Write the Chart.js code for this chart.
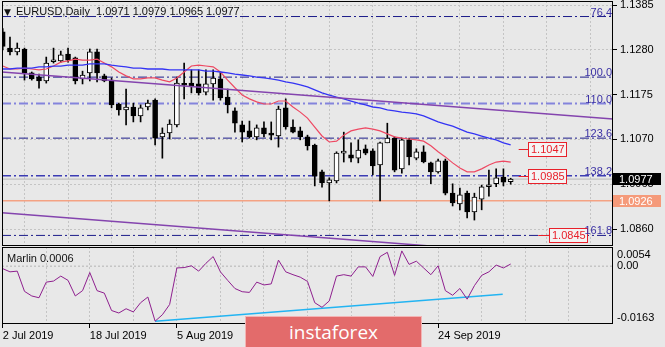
<!DOCTYPE html>
<html>
<head>
<meta charset="utf-8">
<script src="https://cdn.jsdelivr.net/npm/chart.js@4.4.0/dist/chart.umd.min.js"></script>
<style>
  body { margin: 0; background: #e8e8e8; }
  #wrap { position: relative; width: 665px; height: 347px; overflow: hidden; font-family: "Liberation Sans", Arial, sans-serif; }
  canvas { position: absolute; left: 0; }
  #main { top: 0; }
  #sub { top: 244px; }
  .title { position: absolute; left: 4px; top: 5px; font-size: 11px; color: #111; white-space: pre; }
  .title span.tri { font-family: "DejaVu Sans"; font-size: 9px; margin-right: 5px; }
  .marlin { position: absolute; left: 7px; top: 252px; font-size: 11px; color: #111; }
  .brand { position: absolute; left: 245px; top: 316px; width: 175px; height: 40px; background: #e36b6b;
           border: 1px solid #f3b5b5; color: #fff; font-family: "Open Sans", sans-serif; font-size: 19px;
           text-align: center; line-height: 30px; }
</style>
</head>
<body>
<div id="wrap">
  <canvas id="sub" width="665" height="103"></canvas>
  <canvas id="main" width="665" height="246"></canvas>
  <div class="title"><span class="tri">▼</span>EURUSD,Daily  1.0971 1.0979 1.0965 1.0977</div>
  <div class="marlin">Marlin 0.0006</div>
  <div class="brand">instaforex</div>
</div>
<script>
// daily EURUSD candles, 2 Jul 2019 .. 8 Oct 2019
const opens  = [1.1322,1.1284,1.1275,1.1282,1.1226,1.1216,1.1207,1.1252,1.1254,1.1270,
                1.1261,1.1212,1.1226,1.1275,1.1219,1.1209,1.1153,1.1139,1.1146,1.1125,
                1.1146,1.1162,1.1076,1.1085,1.1104,1.1200,1.1202,1.1200,1.1181,1.1200,
                1.1212,1.1169,1.1137,1.1104,1.1090,1.1076,1.1097,1.1085,1.1078,1.1144,
                1.1099,1.1090,1.1076,1.1057,1.0994,1.0968,1.0973,1.1038,1.1034,1.1026,
                1.1048,1.1043,1.1010,1.1062,1.1073,1.1001,1.1069,1.1026,1.1041,1.1015,
                1.0994,1.1020,1.0944,1.0919,1.0944,1.0900,1.0930,1.0959,1.0966,1.0982,1.0971];
const highs  = [1.1330,1.1310,1.1296,1.1284,1.1228,1.1223,1.1263,1.1284,1.1277,1.1284,
                1.1263,1.1230,1.1282,1.1282,1.1223,1.1214,1.1155,1.1188,1.1155,1.1151,
                1.1162,1.1165,1.1097,1.1116,1.1216,1.1249,1.1233,1.1233,1.1233,1.1233,
                1.1228,1.1188,1.1144,1.1113,1.1113,1.1104,1.1111,1.1111,1.1148,1.1165,
                1.1116,1.1099,1.1080,1.1059,1.0998,1.0980,1.1041,1.1087,1.1062,1.1069,
                1.1057,1.1048,1.1064,1.1108,1.1076,1.1073,1.1073,1.1048,1.1055,1.1017,
                1.1024,1.1024,1.0966,1.0956,1.0949,1.0944,1.0963,1.0998,1.1001,1.1001,1.0979];
const lows   = [1.1280,1.1268,1.1268,1.1209,1.1209,1.1190,1.1202,1.1249,1.1251,1.1251,
                1.1200,1.1200,1.1207,1.1205,1.1205,1.1144,1.1127,1.1104,1.1111,1.1111,
                1.1139,1.1057,1.1026,1.1071,1.1099,1.1165,1.1179,1.1174,1.1174,1.1162,
                1.1162,1.1132,1.1087,1.1064,1.1073,1.1069,1.1076,1.1069,1.1052,1.1094,
                1.1085,1.1069,1.1045,1.0961,1.0958,1.0926,1.0968,1.1017,1.1017,1.1015,
                1.1034,1.0987,1.0926,1.1062,1.0994,1.0991,1.1010,1.1022,1.1015,1.0966,
                1.0991,1.0940,1.0914,1.0905,1.0886,1.0881,1.0905,1.0937,1.0959,1.0961,1.0965];
const closes = [1.1288,1.1275,1.1284,1.1226,1.1212,1.1207,1.1249,1.1254,1.1268,1.1256,
                1.1207,1.1221,1.1275,1.1226,1.1207,1.1151,1.1139,1.1146,1.1125,1.1144,
                1.1155,1.1073,1.1085,1.1106,1.1202,1.1197,1.1195,1.1179,1.1200,1.1214,
                1.1167,1.1151,1.1108,1.1087,1.1076,1.1097,1.1083,1.1080,1.1141,1.1099,
                1.1087,1.1076,1.1055,1.0984,1.0968,1.0975,1.1038,1.1041,1.1026,1.1045,
                1.1038,1.1008,1.1062,1.1073,1.0998,1.1069,1.1029,1.1041,1.1017,1.0994,
                1.1020,1.0944,1.0921,1.0940,1.0900,1.0935,1.0959,1.0961,1.0980,1.0970,1.0977];

// moving averages (red fast, blue slow)
const fastMA = [1.1242,1.1235,1.1235,1.1237,1.1235,1.1233,1.1235,1.1242,1.1251,1.1254,
                1.1258,1.1256,1.1256,1.1258,1.1249,1.1240,1.1228,1.1219,1.1212,1.1212,
                1.1214,1.1214,1.1209,1.1205,1.1214,1.1228,1.1242,1.1244,1.1242,1.1240,
                1.1228,1.1209,1.1191,1.1174,1.1165,1.1158,1.1153,1.1153,1.1160,1.1160,
                1.1146,1.1134,1.1120,1.1099,1.1078,1.1064,1.1066,1.1080,1.1090,1.1094,
                1.1097,1.1094,1.1090,1.1083,1.1076,1.1073,1.1071,1.1069,1.1066,1.1055,
                1.1041,1.1029,1.1015,1.1003,1.0994,1.0994,1.1001,1.1010,1.1017,1.1019,1.1017];
const slowMA = [1.1235,1.1235,1.1237,1.1237,1.1237,1.1240,1.1240,1.1242,1.1242,1.1244,
                1.1244,1.1244,1.1247,1.1247,1.1247,1.1244,1.1242,1.1240,1.1237,1.1237,
                1.1235,1.1235,1.1235,1.1233,1.1233,1.1233,1.1233,1.1233,1.1230,1.1230,
                1.1228,1.1226,1.1223,1.1221,1.1219,1.1216,1.1214,1.1212,1.1209,1.1205,
                1.1202,1.1198,1.1193,1.1186,1.1179,1.1174,1.1169,1.1165,1.1160,1.1155,
                1.1151,1.1146,1.1144,1.1139,1.1137,1.1134,1.1132,1.1130,1.1125,1.1118,
                1.1111,1.1106,1.1101,1.1094,1.1087,1.1083,1.1078,1.1073,1.1069,1.1062,1.1057];

// Marlin oscillator
const marlin = [-0.0007,-0.0016,-0.0014,-0.0071,-0.0084,-0.0089,-0.0045,-0.0042,-0.0028,-0.0040,
                -0.0084,-0.0069,-0.0018,-0.0069,-0.0076,-0.0125,-0.0132,-0.0120,-0.0129,-0.0103,
                -0.0087,-0.0155,-0.0137,-0.0108,-0.0005,-0.0004,0.0001,-0.0014,0.0008,0.0027,
                -0.0016,-0.0040,-0.0063,-0.0072,-0.0074,-0.0045,-0.0053,-0.0050,0.0017,-0.0016,
                -0.0024,-0.0031,-0.0043,-0.0103,-0.0116,-0.0098,-0.0028,-0.0024,-0.0028,-0.0002,
                -0.0002,-0.0029,0.0027,0.0039,-0.0026,0.0043,0.0005,0.0014,-0.0005,-0.0024,
                0.0001,-0.0069,-0.0082,-0.0063,-0.0093,-0.0055,-0.0026,-0.0016,0.0003,-0.0005,0.0006];
const marlinTrend = [-0.0155, -0.0079];
const marlinTicks = [0.0054, 0, -0.0163];

const priceTicks = [1.1385, 1.1280, 1.1175, 1.1070, 1.0965, 1.0860];
const dateLabels = ['2 Jul 2019', '18 Jul 2019', '5 Aug 2019', '21 Aug 2019', '6 Sep 2019', '24 Sep 2019'];
const fibLevels = [76.4, 100.0, 110.0, 123.6, 138.2, 161.8];
const fibPrices = [1.1358, 1.1216, 1.1154, 1.1073, 1.0985, 1.0845];
const targetPrices = [1.1047, 1.0985, 1.0845];
const lastPrice = 1.0977;
const supportPrice = 1.0926;
const channelUpper = [1.1228, 1.1118];
const channelLower = [1.0898, 1.0787];

Chart.defaults.font.family = '"Liberation Sans", Arial, sans-serif';
Chart.defaults.font.size = 11;

const X_MIN = -0.1, X_MAX = 84.1, GRID_STEP = 6, LABEL_STEP = 12;
const lastIndex = closes.length - 1;
const idx = closes.map((_, i) => i);
const gridTicks = [];
for (let v = 0; v <= X_MAX; v += GRID_STEP) gridTicks.push({ value: v });

function hLine(price) {
    return [{ x: X_MIN, y: price }, { x: X_MAX, y: price }];
}

function lineSet(data, color, width, extra) {
    return Object.assign({
        type: 'line', data: data, borderColor: color, borderWidth: width,
        pointRadius: 0, tension: 0, fill: false, order: 1
    }, extra || {});
}

// no extra room for edge labels, the frame is fixed
function noEdgePadding(s) {
    s.paddingTop = 0; s.paddingBottom = 0; s.paddingLeft = 0; s.paddingRight = 0;
}

// fib level styles
const fibStyles = {
    110.0: { color: '#8484dc', width: 2 },
    138.2: { color: '#3c3cb4', width: 1.5 }
};
const fibSets = fibPrices.map((p, k) => {
    const st = fibStyles[fibLevels[k]] || { color: '#1c1c8a', width: 1 };
    return lineSet(hLine(p), st.color, st.width, { borderDash: [9, 3, 2, 3], order: 6 });
});

const mainDecor = {
    id: 'mainDecor',
    afterDatasetsDraw(chart) {
        const { ctx, chartArea: a, scales: { x, y } } = chart;
        ctx.save();
        ctx.font = '11px "Liberation Sans"';

        // red target labels: [line start, box start] in bar units
        const anchors = [[71.1, 72.4], [71.1, 72.4], [73.8, 75.3]];
        ctx.textAlign = 'left';
        ctx.textBaseline = 'middle';
        targetPrices.forEach((p, k) => {
            const py = Math.round(y.getPixelForValue(p)) + 0.5;
            const x0 = x.getPixelForValue(anchors[k][0]);
            const bx = Math.round(x.getPixelForValue(anchors[k][1])) + 0.5;
            const txt = p.toFixed(4);
            const w = Math.round(ctx.measureText(txt).width) + 4;
            ctx.strokeStyle = '#e8202a';
            ctx.lineWidth = 1;
            ctx.beginPath(); ctx.moveTo(x0, py); ctx.lineTo(bx, py); ctx.stroke();
            ctx.fillStyle = '#f4f4f4';
            ctx.fillRect(bx, py - 7, w, 14);
            ctx.strokeRect(bx, py - 7, w, 14);
            ctx.fillStyle = '#e8202a';
            ctx.fillText(txt, bx + 2.5, py + 0.5);
        });

        ctx.textAlign = 'right';
        ctx.textBaseline = 'bottom';
        ctx.fillStyle = '#3a30a4';
        fibLevels.forEach((lv, k) => {
            ctx.fillText(lv.toFixed(1), a.right - 1, Math.round(y.getPixelForValue(fibPrices[k])) + 1);
        });
        ctx.restore();
    },
    afterDraw(chart) {
        const { ctx, chartArea: a, scales: { y } } = chart;
        ctx.save();
        ctx.strokeStyle = '#000';
        ctx.lineWidth = 1;
        ctx.strokeRect(a.left + 0.5, a.top + 0.5, a.right - a.left - 1, a.bottom - a.top - 1);
        ctx.font = '11px "Liberation Sans"';
        ctx.textBaseline = 'middle';
        ctx.textAlign = 'left';
        [[lastPrice, '#000000'], [supportPrice, '#f59a7a']].forEach(([p, bg]) => {
            const py = Math.round(y.getPixelForValue(p));
            ctx.fillStyle = bg;
            ctx.fillRect(a.right, py - 6, 48, 12);
            ctx.fillStyle = '#fff';
            ctx.fillText(p.toFixed(4), a.right + 6, py + 0.5);
        });
        ctx.restore();
    }
};

new Chart(document.getElementById('main'), {
    type: 'bar',
    data: {
        datasets: [
            ...fibSets,
            lineSet(hLine(supportPrice), '#f4a283', 1.5, { order: 5 }),
            lineSet(hLine(lastPrice), '#b8b8b8', 1, { order: 5 }),
            {
                data: idx.map(i => ({ x: i, y: [lows[i], highs[i]] })),
                backgroundColor: '#000', barThickness: 1, grouped: false, order: 4
            },
            {
                data: idx.map(i => ({ x: i, y: [Math.min(opens[i], closes[i]), Math.max(opens[i], closes[i])] })),
                backgroundColor: idx.map(i => closes[i] > opens[i] ? '#ffffff' : '#000000'),
                borderColor: '#000', borderWidth: 1, borderSkipped: false,
                barThickness: 5, grouped: false, minBarLength: 2, order: 3
            },
            lineSet(hLine(0).map((pt, k) => ({ x: pt.x, y: channelUpper[k] })), '#8444ae', 1.5),
            lineSet(hLine(0).map((pt, k) => ({ x: pt.x, y: channelLower[k] })), '#8444ae', 1.5),
            lineSet(idx.map(i => ({ x: i, y: slowMA[i] })), '#3434f4', 1.3),
            lineSet(idx.map(i => ({ x: i, y: fastMA[i] })), '#ee4862', 1.2)
        ]
    },
    options: {
        responsive: false, animation: false, events: [],
        layout: { padding: { left: 2, top: 1, right: 0, bottom: 0 } },
        plugins: { legend: { display: false }, tooltip: { enabled: false } },
        scales: {
            x: {
                type: 'linear', min: X_MIN, max: X_MAX, offset: false,
                afterBuildTicks: s => { s.ticks = gridTicks.slice(); },
                afterFit: s => { s.height = 0; noEdgePadding(s); },
                ticks: { display: false },
                grid: { color: '#c4c4c4', drawTicks: false },
                border: { display: false, dash: [2, 2] }
            },
            y: {
                position: 'right', min: 1.08202, max: 1.13944,
                afterBuildTicks: s => { s.ticks = priceTicks.map(v => ({ value: v })); },
                afterFit: s => { s.width = 52; noEdgePadding(s); },
                ticks: { color: '#000', padding: 3, callback: v => v.toFixed(4) },
                grid: { color: '#c4c4c4', tickLength: 4, tickColor: '#000' },
                border: { display: false, dash: [2, 2] }
            }
        }
    },
    plugins: [mainDecor]
});

const subDecor = {
    id: 'subDecor',
    afterDraw(chart) {
        const { ctx, chartArea: a, scales: { y } } = chart;
        ctx.save();
        ctx.strokeStyle = '#000';
        ctx.lineWidth = 1;
        ctx.strokeRect(a.left + 0.5, a.top + 0.5, a.right - a.left - 1, a.bottom - a.top - 1);
        ctx.font = '11px "Liberation Sans"';
        ctx.fillStyle = '#000';
        ctx.textAlign = 'left';
        ctx.textBaseline = 'middle';
        marlinTicks.forEach(v => {
            let py = y.getPixelForValue(v);
            if (py < a.top + 7) py = a.top + 8;
            if (py > a.bottom - 7) py = a.bottom - 6;
            ctx.fillText(v === 0 ? '0.00' : v.toFixed(4), a.right + 4, py);
        });
        ctx.restore();
    }
};

new Chart(document.getElementById('sub'), {
    type: 'line',
    data: {
        datasets: [
            lineSet(hLine(0), '#b4b4b4', 1, { borderDash: [2, 2], order: 3 }),
            lineSet([{ x: 21, y: marlinTrend[0] }, { x: 68.9, y: marlinTrend[1] }], '#22b4f2', 1.5, { order: 2 }),
            lineSet(idx.map(i => ({ x: i, y: marlin[i] })), '#8e1f8e', 1)
        ]
    },
    options: {
        responsive: false, animation: false, events: [],
        layout: { padding: { left: 2, top: 3, right: 0, bottom: 0 } },
        plugins: { legend: { display: false }, tooltip: { enabled: false } },
        scales: {
            x: {
                type: 'linear', min: X_MIN, max: X_MAX, offset: false,
                afterBuildTicks: s => { s.ticks = gridTicks.slice(); },
                afterFit: s => { s.height = 23; noEdgePadding(s); },
                ticks: {
                    align: 'start', autoSkip: false, maxRotation: 0, padding: 1, color: '#000',
                    callback: v => (v % LABEL_STEP === 0 && v <= lastIndex) ? dateLabels[v / LABEL_STEP] : ''
                },
                grid: {
                    color: '#c4c4c4', tickLength: 4,
                    tickColor: c => (c.tick && c.tick.value % LABEL_STEP === 0 && c.tick.value <= lastIndex) ? '#000' : 'rgba(0,0,0,0)'
                },
                border: { display: false, dash: [2, 2] }
            },
            y: {
                position: 'right', min: -0.0163, max: 0.0054,
                afterFit: s => { s.width = 52; noEdgePadding(s); },
                ticks: { display: false },
                grid: { display: false },
                border: { display: false }
            }
        }
    },
    plugins: [subDecor]
});
</script>
</body>
</html>
